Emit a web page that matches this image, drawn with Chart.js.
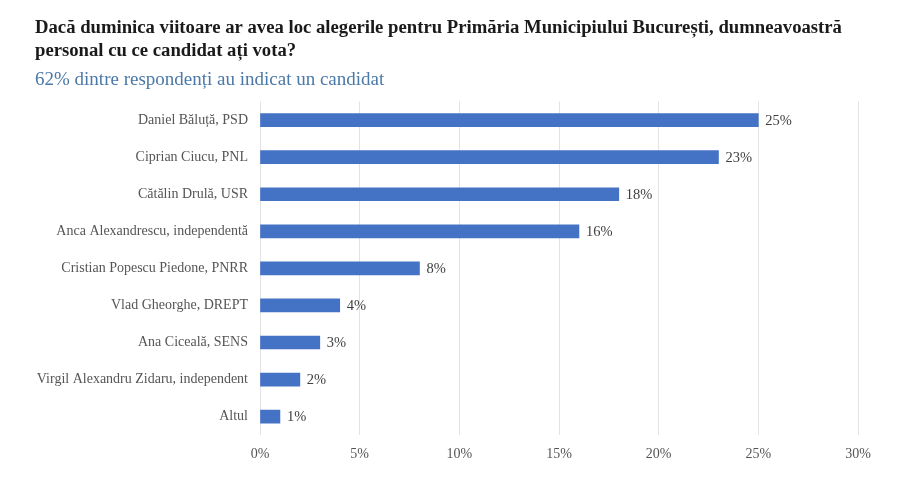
<!DOCTYPE html>
<html><head><meta charset="utf-8">
<style>html,body{margin:0;padding:0;background:#fff}#wrap{width:900px;height:484px}</style>
<script src="https://cdn.jsdelivr.net/npm/chart.js@4.4.0/dist/chart.umd.min.js"></script>
</head><body><div id="wrap"><canvas id="c" width="900" height="484"></canvas></div>
<script>
const titleLines = ["Dacă duminica viitoare ar avea loc alegerile pentru Primăria Municipiului București, dumneavoastră", "personal cu ce candidat ați vota?"];
const subtitleText = "62% dintre respondenți au indicat un candidat";
const categories = ["Daniel Băluță, PSD","Ciprian Ciucu, PNL","Cătălin Drulă, USR","Anca Alexandrescu, independentă","Cristian Popescu Piedone, PNRR","Vlad Gheorghe, DREPT","Ana Ciceală, SENS","Virgil Alexandru Zidaru, independent","Altul"];
const values = [25,23,18,16,8,4,3,2,1];
const xTicks = [0,5,10,15,20,25,30];

const serif = "'Liberation Serif', 'DejaVu Serif', serif";

const valueLabels = {
  id:'valueLabels',
  afterDatasetsDraw(chart){
    const ctx = chart.ctx;
    const meta = chart.getDatasetMeta(0);
    ctx.save();
    ctx.font = "14.5px " + serif;
    ctx.fillStyle = "#404040";
    ctx.textBaseline = "middle";
    ctx.textAlign = "left";
    meta.data.forEach((bar,i)=>{
      ctx.fillText(values[i] + "%", bar.x + 7, bar.y + 1);
    });
    ctx.restore();
  }
};

new Chart(document.getElementById('c'), {
  type:'bar',
  data:{labels:categories, datasets:[{data:values, backgroundColor:'#4472C4', borderWidth:0, barThickness:13}]},
  options:{
    indexAxis:'y',
    responsive:false,
    animation:false,
    layout:{padding:{left:35,right:42,top:0,bottom:10}},
    plugins:{
      legend:{display:false},
      tooltip:{enabled:false},
      title:{display:true, text:titleLines, align:'start', color:'#1a1a1a', font:{family:serif, size:18.7, weight:'bold', lineHeight:1.25}, padding:{top:16,bottom:6}},
      subtitle:{display:true, text:subtitleText, align:'start', color:'#4a78a8', font:{family:serif, size:19}, padding:{top:0,bottom:10}}
    },
    scales:{
      x:{min:0,max:30,
        afterBuildTicks(s){ s.ticks = xTicks.map(v=>({value:v})); },
        ticks:{callback:v=>v+'%', color:'#555', font:{family:serif,size:14}, padding:11},
        grid:{color:'#e3e3e3', drawTicks:false, lineWidth:1},
        border:{display:false}
      },
      y:{
        afterFit(s){ s.width = 225; },
        ticks:{color:'#555', font:{family:serif,size:14}, padding:4},
        grid:{display:false},
        border:{display:false}
      }
    }
  },
  plugins:[valueLabels]
});
</script></body></html>
